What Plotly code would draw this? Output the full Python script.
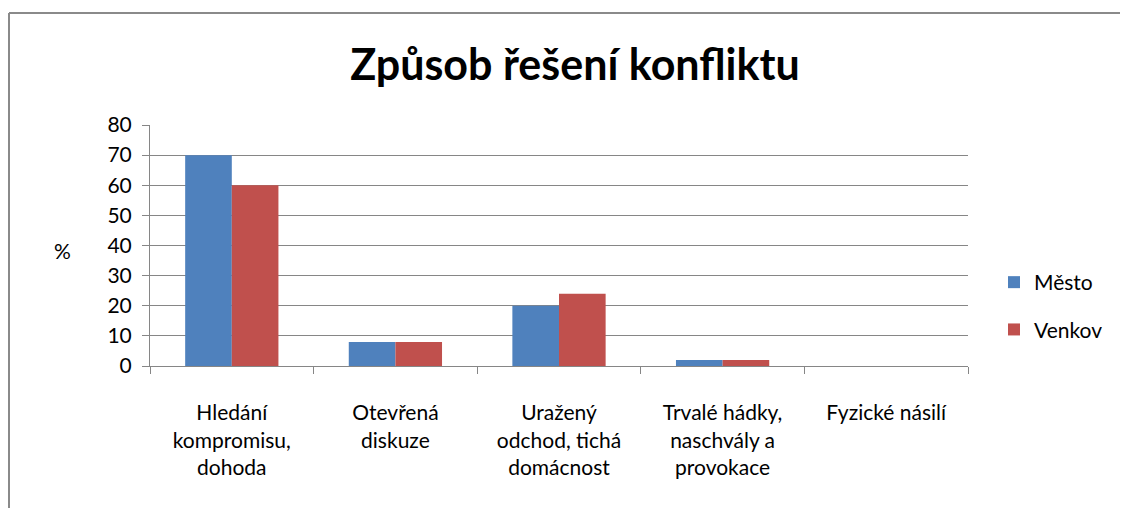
import plotly.graph_objects as go

categories = ["Hledání<br>kompromisu,<br>dohoda", "Otevřená<br>diskuze",
              "Uražený<br>odchod, tichá<br>domácnost", "Trvalé hádky,<br>naschvály a<br>provokace",
              "Fyzické násilí"]
mesto = [70, 8, 20, 2, 0]
venkov = [60, 8, 24, 2, 0]
y_ticks = [0, 10, 20, 30, 40, 50, 60, 70, 80]

FONT = "Lato, 'Open Sans', sans-serif"
OFF = 8  # page body margin
W, H = 1128 - OFF, 508 - OFF
L, T = 150 - OFF, 125 - OFF
R = W - (968 - OFF)
B = H - (366 - OFF)
pw, ph = W - L - R, H - T - B

def px_x(x):
    return (x - OFF - L) / pw

def px_y(y):
    return (H - B - (y - OFF)) / ph

fig = go.Figure()
fig.add_trace(go.Bar(x=categories, y=mesto, name="Město", marker_color="#4F81BD",
                     marker_line_width=0, legendgroup="a"))
fig.add_trace(go.Bar(x=categories, y=venkov, name="Venkov", marker_color="#C0504D",
                     marker_line_width=0, legendgroup="b"))

fig.update_layout(
    width=W, height=H,
    margin=dict(l=L, r=R, t=T, b=B),
    paper_bgcolor="white", plot_bgcolor="white",
    barmode="group", bargap=0.43, bargroupgap=0,
    title=dict(text="<b>Způsob řešení konfliktu</b>", x=(575 - OFF) / W, xanchor="center",
               y=1 - (65 - OFF) / H, yanchor="middle",
               font=dict(family=FONT, size=43, color="black")),
    font=dict(family=FONT, color="black"),
    xaxis=dict(type="category", tickson="boundaries", ticks="outside", ticklen=7,
               tickcolor="#868686", showline=True, linecolor="#868686", linewidth=1,
               tickfont=dict(size=21, color="black"), showgrid=False,
               ticklabelstandoff=28),
    yaxis=dict(range=[0, 80], tickvals=y_ticks, ticks="outside", ticklen=7,
               tickcolor="#868686", showline=True, linecolor="#868686",
               gridcolor="#868686", gridwidth=1, zeroline=False,
               tickfont=dict(size=21, color="black"), ticklabelstandoff=6),
    legend=dict(x=px_x(994), y=px_y(262), xanchor="left", yanchor="top",
                font=dict(size=21, color="black"), traceorder="grouped",
                tracegroupgap=17, itemwidth=30, bgcolor="rgba(0,0,0,0)"),
    annotations=[dict(text="%", x=px_x(62), y=px_y(250), xref="paper", yref="paper",
                      xanchor="center", yanchor="middle",
                      showarrow=False, font=dict(size=21, color="black"))],
    shapes=[
        dict(type="line", xref="paper", yref="paper", x0=px_x(9), x1=px_x(9),
             y0=px_y(13), y1=px_y(520), line=dict(color="#8a8a8a", width=2)),
        dict(type="line", xref="paper", yref="paper", x0=px_x(9), x1=px_x(1140),
             y0=px_y(13), y1=px_y(13), line=dict(color="#8a8a8a", width=2)),
    ],
)

fig.write_html("out.html")
